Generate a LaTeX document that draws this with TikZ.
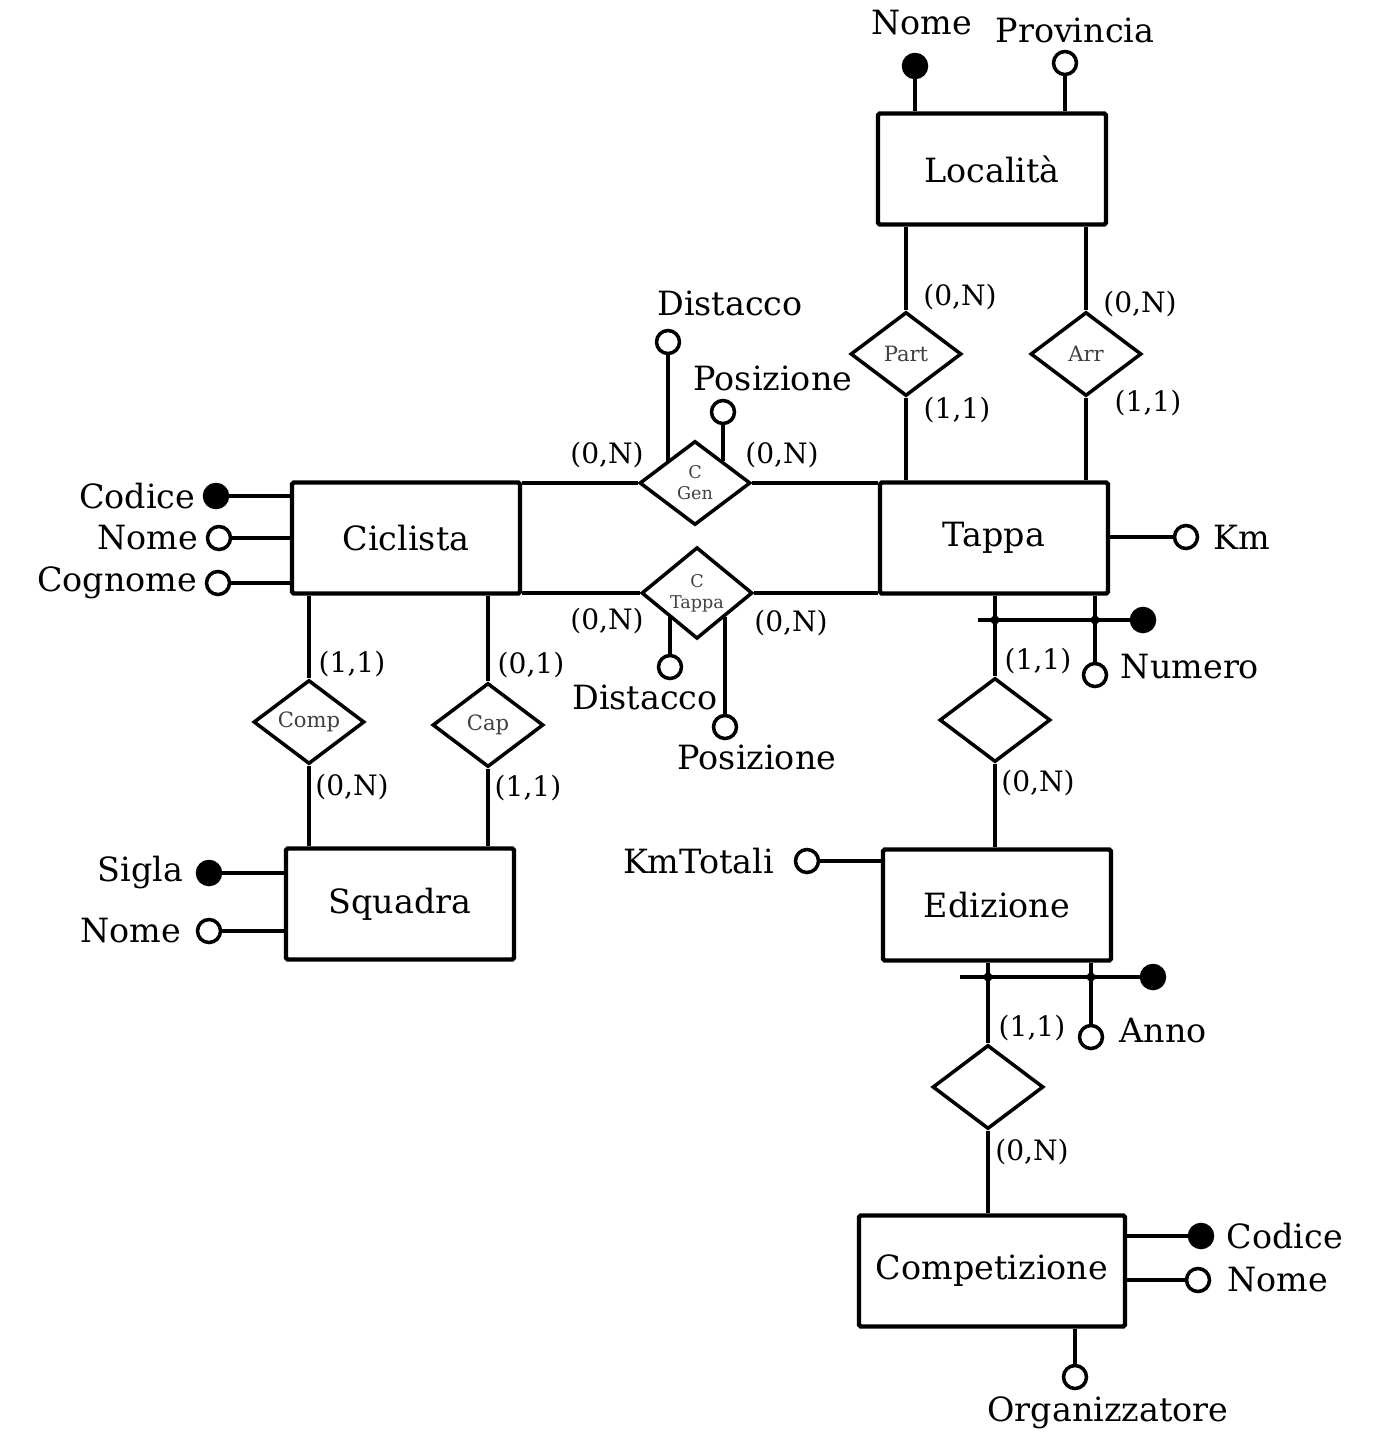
\documentclass[tikz,border=0pt]{standalone}
\usepackage{fontspec}
\setmainfont{DejaVu Serif}
\usetikzlibrary{shapes.geometric,positioning}

\begin{document}
\begin{tikzpicture} [x=0.02cm, y=-0.02cm,
 every node/.style = {align=center},
 entity/.style = {shape=rectangle, rounded corners=1pt, draw, line width=2.5pt,
 minimum width=4.56cm, minimum height=2.22cm, font=\fontsize{19}{22}\selectfont},
 rel/.style = {shape=diamond, draw, line width=2pt, inner sep=0pt,
 minimum width=2.22cm, minimum height=1.68cm, font=\fontsize{12}{15}\selectfont, text=black!75},
 crel/.style = {rel, font=\fontsize{10}{12}\selectfont},
 attr/.style = {shape=circle, draw, line width=2pt, fill=white, inner sep=0pt, minimum size=0.46cm},
 key/.style = {attr, fill=black},
 lbl/.style = {font=\fontsize{19}{22}\selectfont, inner sep=1pt},
 card/.style = {font=\fontsize{16}{18}\selectfont, inner sep=1pt},
 link/.style = {line width=2pt}]
 \useasboundingbox (0,0) rectangle (1388,1438);

 % entities
 \node [entity] (loc) at (992,169) {Località};
 \node [entity] (tappa) at (994,538) {Tappa};
 \node [entity] (cicl) at (406,538) {Ciclista};
 \node [entity] (squadra) at (400,904) {Squadra};
 \node [entity] (ediz) at (997,905) {Edizione};
 \node [entity, minimum width=5.32cm] (comp) at (992,1271) {Competizione};

 % relations
 \node [rel] (part) at (906,354) {Part};
 \node [rel] (arr) at (1086,354) {Arr};
 \node [crel] (cgen) at (695,483) {C\\Gen};
 \node [crel] (ctappa) at (697,593) {C\\Tappa};
 \node [rel] (compr) at (309,722) {Comp};
 \node [rel] (cap) at (488,725) {Cap};
 \node [rel] (tapped) at (995,720) {};
 \node [rel] (edcomp) at (988,1087) {};

 \draw [link] (loc.south -| part) -- (part.north);
 \draw [link] (part.south) -- (part.south |- tappa.north);
 \draw [link] (loc.south -| arr) -- (arr.north);
 \draw [link] (arr.south) -- (arr.south |- tappa.north);
 \draw [link] (cgen.west -| cicl.east) -- (cgen.west);
 \draw [link] (cgen.east) -- (cgen.east -| tappa.west);
 \draw [link] (ctappa.west -| cicl.east) -- (ctappa.west);
 \draw [link] (ctappa.east) -- (ctappa.east -| tappa.west);
 \draw [link] (cicl.south -| compr) -- (compr.north);
 \draw [link] (compr.south) -- (compr.south |- squadra.north);
 \draw [link] (cicl.south -| cap) -- (cap.north);
 \draw [link] (cap.south) -- (cap.south |- squadra.north);
 \draw [link] (tappa.south -| tapped) -- (tapped.north);
 \draw [link] (tapped.south) -- (tapped.south |- ediz.north);
 \draw [link] (ediz.south -| edcomp) -- (edcomp.north);
 \draw [link] (edcomp.south) -- (edcomp.south |- comp.north);

 % cardinalities
 \node [card] (cpart1) at (960,297) {(0,N)};
 \node [card] (cpart2) at (957,410) {(1,1)};
 \node [card] (carr1) at (1140,304) {(0,N)};
 \node [card] (carr2) at (1148,403) {(1,1)};
 \node [card] (cgen1) at (607,455) {(0,N)};
 \node [card] (cgen2) at (782,455) {(0,N)};
 \node [card] (ctap1) at (607,621) {(0,N)};
 \node [card] (ctap2) at (791,623) {(0,N)};
 \node [card] (ccomp1) at (352,664) {(1,1)};
 \node [card] (ccomp2) at (352,787) {(0,N)};
 \node [card] (ccap1) at (531,665) {(0,1)};
 \node [card] (ccap2) at (528,788) {(1,1)};
 \node [card] (cted1) at (1038,661) {(1,1)};
 \node [card] (cted2) at (1038,783) {(0,N)};
 \node [card] (cedc1) at (1032,1028) {(1,1)};
 \node [card] (cedc2) at (1032,1152) {(0,N)};

 % attributes of Localita
 \node [key] (locnome) at (915,66) {};
 \node [attr] (locprov) at (1065,63) {};
 \node [lbl] (locnomet) at (922,23) {Nome};
 \node [lbl] (locprovt) at (1075,30) {Provincia};
 \draw [link] (locnome) -- (locnome |- loc.north);
 \draw [link] (locprov) -- (locprov |- loc.north);

 % attributes of Ciclista
 \node [key] (cicod) at (216,496) {};
 \node [attr] (cinome) at (219,538) {};
 \node [attr] (cicog) at (218,583) {};
 \node [lbl, left=3pt of cicod] (cicodt) {Codice};
 \node [lbl, left=3pt of cinome] (cinomet) {Nome};
 \node [lbl, left=3pt of cicog] (cicogt) {Cognome};
 \draw [link] (cicod) -- (cicod -| cicl.west);
 \draw [link] (cinome) -- (cinome -| cicl.west);
 \draw [link] (cicog) -- (cicog -| cicl.west);

 % attributes of the two C relations
 \node [attr] (gdis) at (668,342) {};
 \node [attr] (gpos) at (723,412) {};
 \node [lbl] (gdist) at (730,303) {Distacco};
 \node [lbl] (gpost) at (773,378) {Posizione};
 \draw [link] (gdis) -- (gdis |- cgen.north west);
 \draw [link] (gpos) -- (gpos |- cgen.north east);
 \node [attr] (tdis) at (670,667) {};
 \node [attr] (tpos) at (725,727) {};
 \node [lbl] (tdist) at (645,697) {Distacco};
 \node [lbl] (tpost) at (757,757) {Posizione};
 \draw [link] (tdis) -- (tdis |- ctappa.south west);
 \draw [link] (tpos) -- (tpos |- ctappa.south east);

 % attributes of Squadra
 \node [key] (sqsig) at (209,873) {};
 \node [attr] (sqnome) at (209,931) {};
 \node [lbl, left=6pt of sqsig] (sqsigt) {Sigla};
 \node [lbl, left=7pt of sqnome] (sqnomet) {Nome};
 \draw [link] (sqsig) -- (sqsig -| squadra.west);
 \draw [link] (sqnome) -- (sqnome -| squadra.west);

 % attributes of Tappa
 \node [attr] (tkm) at (1186,537) {};
 \node [lbl, right=7pt of tkm] (tkmt) {Km};
 \draw [link] (tkm) -- (tkm -| tappa.east);
 \node [key] (tnum) at (1143,620) {};
 \node [attr] (tnumo) at (1095,675) {};
 \node [lbl] (tnumt) at (1190,667) {Numero};
 \coordinate (tidl) at (978,620);
 \draw [link] (tidl) -- (tnum);
 \draw [link] (tappa.south -| tnumo) -- (tnumo);
 \fill (tidl -| tapped) circle (4.5);
 \fill (tidl -| tnumo) circle (4.5);

 % attributes of Edizione
 \node [attr] (ekm) at (807,861) {};
 \node [lbl, left=10pt of ekm] (ekmt) {KmTotali};
 \draw [link] (ekm) -- (ekm -| ediz.west);
 \node [key] (eanno) at (1153,977) {};
 \node [attr] (eannoo) at (1091,1037) {};
 \node [lbl] (eannot) at (1163,1031) {Anno};
 \coordinate (eidl) at (960,977);
 \draw [link] (eidl) -- (eanno);
 \draw [link] (ediz.south -| eannoo) -- (eannoo);
 \fill (eidl -| edcomp) circle (4.5);
 \fill (eidl -| eannoo) circle (4.5);

 % attributes of Competizione
 \node [key] (ccod) at (1201,1236) {};
 \node [attr] (cnome) at (1198,1280) {};
 \node [attr] (corg) at (1075,1377) {};
 \node [lbl, right=6pt of ccod] (ccodt) {Codice};
 \node [lbl, right=8pt of cnome] (cnomet) {Nome};
 \node [lbl] (corgt) at (1108,1413) {Organizzatore};
 \draw [link] (ccod) -- (ccod -| comp.east);
 \draw [link] (cnome) -- (cnome -| comp.east);
 \draw [link] (corg) -- (corg |- comp.south);
\end{tikzpicture}
\end{document}
